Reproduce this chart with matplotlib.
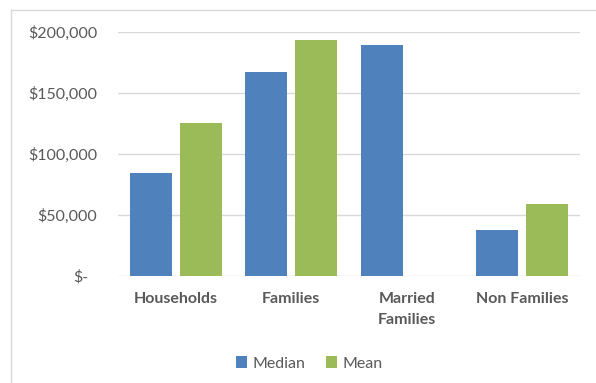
import matplotlib
matplotlib.use("Agg")
import matplotlib.pyplot as plt
import numpy as np
from matplotlib.ticker import FuncFormatter
from matplotlib.transforms import ScaledTranslation
from matplotlib.lines import Line2D

categories = ["Households", "Families", "Married\nFamilies", "Non Families"]
median_vals = [84000, 167000, 189000, 37500]
mean_vals = [125000, 193000, 0, 59000]
yticks = [0, 50000, 100000, 150000, 200000]

BLUE = "#4F81BD"
GREEN = "#9BBB59"
TXT = "#595959"
GRID = "#D9D9D9"

plt.rcParams['font.family'] = ['Lato', 'DejaVu Sans']

fig = plt.figure(figsize=(5.96, 3.83), dpi=100)
ax = fig.add_axes([118/596, 1-275.7/383, (580-118)/596, (275.7-31.7)/383])

x = np.arange(len(categories))
w = 0.364
off = 0.218
ax.bar(x - off, median_vals, width=w, color=BLUE, label="Median", zorder=3)
ax.bar(x + off, mean_vals, width=w, color=GREEN, label="Mean", zorder=3)

ax.set_xlim(-0.5, len(categories) - 0.5)
ax.set_ylim(0, 200000)
ax.set_yticks(yticks)
ax.yaxis.set_major_formatter(FuncFormatter(lambda v, p: "$-" if v == 0 else f"${int(v):,}"))
ax.grid(axis='y', color=GRID, linewidth=1.0, zorder=0)
for s in ax.spines.values():
    s.set_visible(False)
ax.tick_params(axis='y', length=0, pad=15, labelsize=11.5, labelcolor=TXT)
ax.set_xticks(x)
ax.set_xticklabels(categories, fontweight='bold', fontsize=11.5, color=TXT, linespacing=1.6)
ax.tick_params(axis='x', length=0, pad=12)

fig.canvas.draw()
for lab in ax.get_yticklabels():
    if lab.get_text() == "$-":
        lab.set_transform(lab.get_transform() + ScaledTranslation(-9/100, 0, fig.dpi_scale_trans))

leg = fig.legend(loc='center', bbox_to_anchor=(0.519, 1-363.5/383), ncol=2, frameon=False,
                 fontsize=11.5, handlelength=0.7, handleheight=0.7, handletextpad=0.35,
                 columnspacing=1.3)
for t in leg.get_texts():
    t.set_color(TXT)

# outer chart border (left and top)
fig.add_artist(Line2D([11/596, 11/596], [0, 1-10/383], transform=fig.transFigure, color="#D9D9D9", lw=1.0))
fig.add_artist(Line2D([11/596, 1], [1-10/383, 1-10/383], transform=fig.transFigure, color="#D9D9D9", lw=1.0))

fig.savefig("out.png", dpi=100)
